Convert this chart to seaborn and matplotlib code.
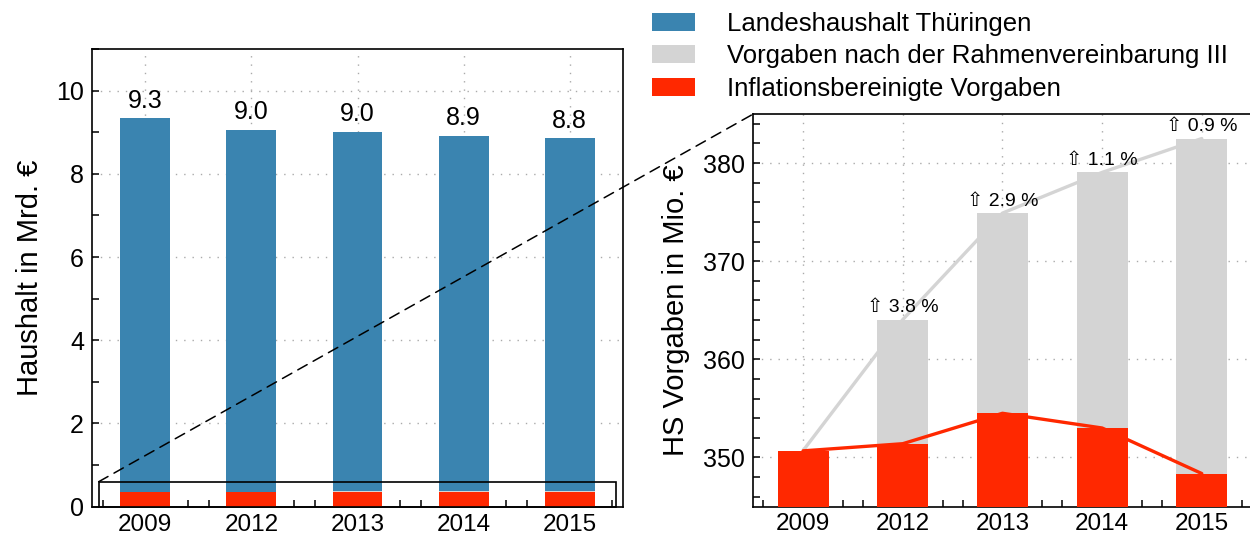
import numpy as np
import pandas as pd
import matplotlib
matplotlib.use("Agg")
import matplotlib.pyplot as plt
import seaborn as sns
from matplotlib.patches import Patch, Rectangle, ConnectionPatch
from matplotlib.ticker import MultipleLocator, FixedLocator

# ---- data ----
years = ["2009", "2012", "2013", "2014", "2015"]
haushalt_mrd = [9.33, 9.06, 9.01, 8.92, 8.85]
haushalt_labels = ["9.3", "9.0", "9.0", "8.9", "8.8"]
vorgaben_mio = [350.7, 364.05, 374.9, 379.05, 382.5]
inflation_mio = [350.67, 351.4, 354.5, 353.0, 348.36]
growth_labels = ["3.8 %", "2.9 %", "1.1 %", "0.9 %"]
legend_labels = ["Landeshaushalt Thüringen",
                 "Vorgaben nach der Rahmenvereinbarung III",
                 "Inflationsbereinigte Vorgaben"]

BLUE = "#3a84b0"
GREY = "#d4d4d4"
RED = "#ff2800"

sns.set_theme(style="white")
plt.rcParams["font.family"] = ["Liberation Sans", "DejaVu Sans"]
plt.rcParams["axes.edgecolor"] = "black"
plt.rcParams["axes.linewidth"] = 1.2
plt.rcParams["text.color"] = "black"
plt.rcParams["axes.labelcolor"] = "black"
plt.rcParams["xtick.color"] = "black"
plt.rcParams["ytick.color"] = "black"

df = pd.DataFrame({
    "year": years,
    "haushalt": haushalt_mrd,
    "vorgaben": vorgaben_mio,
    "inflation": inflation_mio,
})
df["vorgaben_mrd"] = df["vorgaben"] / 1000.0
df["inflation_mrd"] = df["inflation"] / 1000.0
pos = np.arange(len(years))

W, H = 1250, 539
fig = plt.figure(figsize=(W / 100, H / 100), dpi=100)
ax1 = fig.add_axes([92.3 / W, (H - 506.7) / H, (622.7 - 92.3) / W, (506.7 - 49) / H])
ax2 = fig.add_axes([753.3 / W, (H - 506.5) / H, (1251.6 - 753.3) / W, (506.5 - 114) / H])

bar_kw = dict(saturation=1, linewidth=0, edgecolor="none")

# ---- left chart ----
sns.barplot(data=df, x="year", y="haushalt", color=BLUE, width=0.47, ax=ax1, zorder=2, **bar_kw)
sns.barplot(data=df, x="year", y="vorgaben_mrd", color=GREY, width=0.47, ax=ax1, zorder=3, **bar_kw)
sns.barplot(data=df, x="year", y="inflation_mrd", color=RED, width=0.47, ax=ax1, zorder=4, **bar_kw)
ax1.bar_label(ax1.containers[0], labels=haushalt_labels, padding=4, fontsize=18,
              color="black")
ax1.set_xlim(-0.5, 4.5)
ax1.set_ylim(0, 11)
ax1.yaxis.set_major_locator(MultipleLocator(2))
ax1.yaxis.set_minor_locator(MultipleLocator(1))
ax1.set_ylabel("Haushalt in Mrd. €", fontsize=21, labelpad=9)
ax1.set_xlabel("")
ax1.add_patch(Rectangle((-0.44, 0.0), 4.88, 0.6, fill=False, ec="black",
                        lw=1.2, zorder=6, clip_on=False))

# ---- right chart ----
sns.barplot(data=df, x="year", y="vorgaben", color=GREY, width=0.51, ax=ax2, zorder=2, **bar_kw)
sns.lineplot(x=pos, y=df["vorgaben"], color=GREY, lw=2.4, ax=ax2, zorder=3)
sns.barplot(data=df, x="year", y="inflation", color=RED, width=0.51, ax=ax2, zorder=4, **bar_kw)
sns.lineplot(x=pos, y=df["inflation"], color=RED, lw=2.4, ax=ax2, zorder=5)
for i, lab in enumerate(growth_labels, start=1):
    ax2.annotate("⇧ " + lab, (pos[i], vorgaben_mio[i]), xytext=(0, 2.5),
                 textcoords="offset points", ha="center", va="bottom",
                 fontsize=14, color="black", zorder=7)
ax2.set_xlim(-0.5, 4.5)
ax2.set_ylim(345, 385)
ax2.yaxis.set_major_locator(MultipleLocator(10))
ax2.yaxis.set_minor_locator(MultipleLocator(2))
ax2.set_ylabel("HS Vorgaben in Mio. €", fontsize=21, labelpad=9)
ax2.set_xlabel("")

for ax in (ax1, ax2):
    ax.set_axisbelow(True)
    ax.grid(True, which="major", linestyle=(0, (1, 5)), color="#aaaaaa", lw=1)
    ax.xaxis.set_minor_locator(FixedLocator(np.concatenate([pos - 0.4, pos + 0.4])))
    ax.tick_params(which="both", direction="in", length=5, width=1.1,
                   top=False, right=False, left=True, bottom=True, colors="black")
    ax.tick_params(axis="x", which="major", pad=5, labelsize=17.5)
    ax.tick_params(axis="y", which="major", pad=6, labelsize=18)
    for s in ax.spines.values():
        s.set_visible(True)
        s.set_linewidth(1.2)

# dashed zoom connector
con = ConnectionPatch(xyA=(-0.44, 0.6), coordsA=ax1.transData,
                      xyB=(0, 1), coordsB=ax2.transAxes,
                      linestyle=(0, (7, 4.5)), color="black", lw=1.1, zorder=10)
fig.add_artist(con)

# legend
handles = [Patch(facecolor=c, edgecolor="none") for c in (BLUE, GREY, RED)]
fig.legend(handles, legend_labels, loc="upper left",
           bbox_to_anchor=(652 / W, 1 - 12 / H), frameon=False, fontsize=18.5,
           borderpad=0, borderaxespad=0, handlelength=1.67, handleheight=0.7,
           handletextpad=1.25, labelspacing=0.33)

fig.savefig("out.png", dpi=100)
